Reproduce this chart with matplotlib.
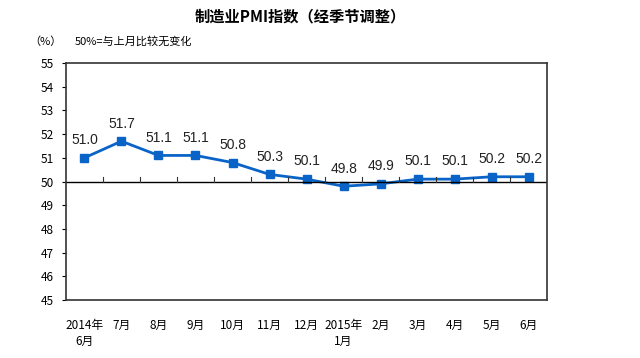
import matplotlib.pyplot as plt
import numpy as np

plt.rcParams['font.family'] = ['Noto Sans CJK SC', 'DejaVu Sans']

months = ['2014年\n6月', '7月', '8月', '9月', '10月', '11月', '12月',
          '2015年\n1月', '2月', '3月', '4月', '5月', '6月']
pmi = [51.0, 51.7, 51.1, 51.1, 50.8, 50.3, 50.1, 49.8, 49.9, 50.1, 50.1, 50.2, 50.2]

fig = plt.figure(figsize=(6.4, 3.58), dpi=100)
ax = fig.add_axes([0.103, 0.162, 0.752, 0.662])

x = np.arange(len(months))
ax.plot(x, pmi, color='#0a64c8', lw=2, marker='s', ms=5.5)
for xi, v in zip(x, pmi):
    ax.text(xi, v + 0.45, f'{v:.1f}', ha='center', va='bottom', fontsize=10,
            family='Liberation Sans', color='#222222')

ax.set_xlim(-0.5, len(months) - 0.5)
ax.set_ylim(45, 55)
ax.set_yticks(range(45, 56))
ax.tick_params(axis='y', labelsize=8.5, length=3, width=0.8, pad=6)
ax.set_xticks([])
for lab_x, lab in zip(x, months):
    ax.text(lab_x, 44.2, lab, ha='center', va='top', fontsize=8.5,
            linespacing=1.3)

# axis line at 50 with category separator ticks
ax.axhline(50, color='black', lw=1)
for b in np.arange(0.5, len(months) - 0.5):
    ax.plot([b, b], [50, 50.2], color='#333333', lw=0.8)

for s in ax.spines.values():
    s.set_color('#333333')
    s.set_linewidth(1.2)

fig.text(0.47, 0.955, '制造业PMI指数（经季节调整）', ha='center', va='center',
         fontsize=11, fontweight='bold')
fig.text(0.045, 0.885, '（%）', ha='left', va='center', fontsize=8)
fig.text(0.117, 0.885, '50%=与上月比较无变化', ha='left', va='center', fontsize=8)

fig.savefig('out.png', dpi=100)
